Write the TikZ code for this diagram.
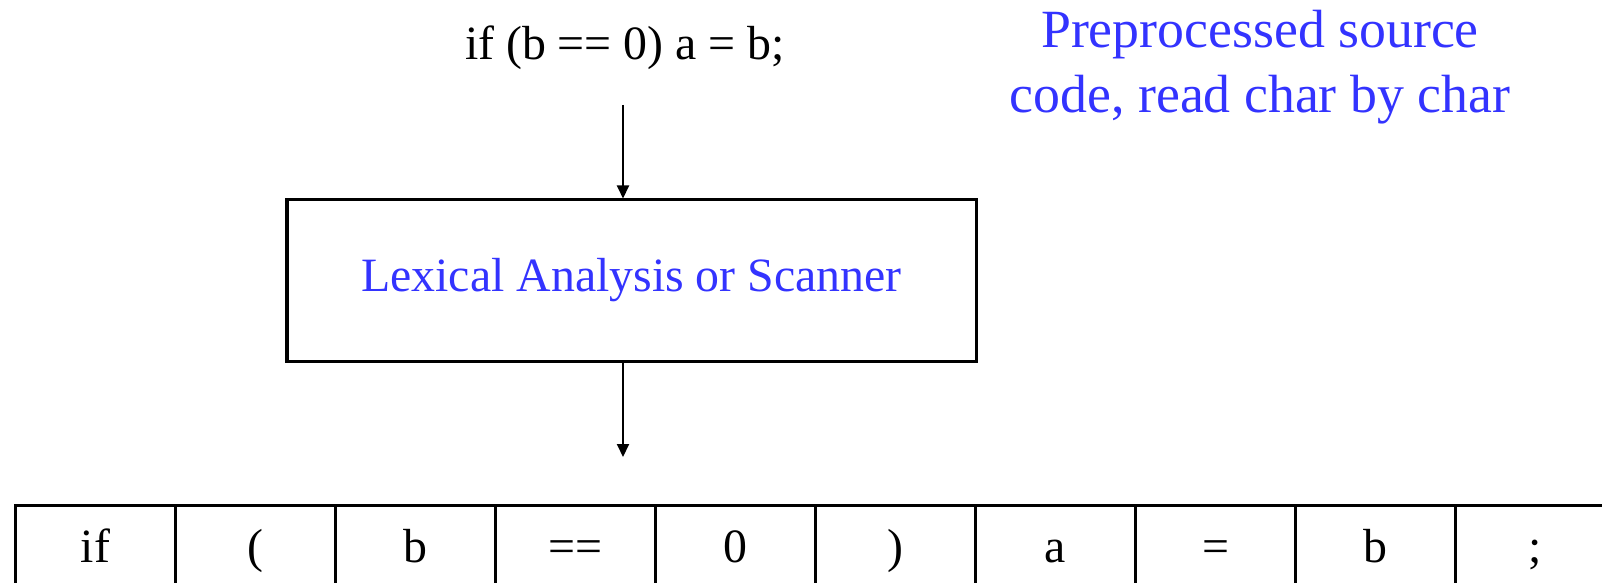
\documentclass[tikz,border=0pt]{standalone}
\usepackage{fontspec}
\setmainfont{Liberation Serif}
\usetikzlibrary{arrows.meta}
\definecolor{labelblue}{RGB}{51,51,255}
\tikzset{
  big/.style={font=\fontsize{48}{60}\selectfont},
  notefont/.style={font=\fontsize{54}{66}\selectfont},
  flow/.style={line width=2bp,-{Triangle[width=12bp,length=13bp]}},
  stagebox/.style={draw,line width=3bp,minimum width=689bp,minimum height=161bp,inner sep=0pt,big,text=labelblue},
  tokcell/.style={draw,line width=3bp,minimum width=160bp,minimum height=90bp,inner sep=0pt,
    text height=36bp,text depth=12bp,big},
}
\begin{document}
\begin{tikzpicture}[x=1bp,y=1bp]
\useasboundingbox (0,0) rectangle (1602,-583);
\clip (0,0) rectangle (1602,-583);
\fill[white] (0,0) rectangle (1602,-583);

% source line and note
\node[big,anchor=base,inner sep=0pt] (src) at (625,-60) {if (b == 0) a = b;};
\node[notefont,anchor=base,inner sep=0pt,align=center,text=labelblue] (note) at (1260,-113)
  {Preprocessed source\\code, read char by char};

% scanner stage
\node[stagebox] (lex) at (631.5,-280.5) {Lexical Analysis or Scanner};
\coordinate (in) at (623,-105);
\coordinate (out) at (623,-457);
\draw[flow] (in) -- (in |- lex.north);
\draw[flow] (out |- lex.south) -- (out);

% token stream
\foreach \t [count=\i] in {{if},{(},{b},{==},{0},{)},{a},{=},{b},{;}} {
  \node[tokcell,anchor=north west] (t\i) at ({14+160*(\i-1)},-504) {\t};
}
\end{tikzpicture}
\end{document}
